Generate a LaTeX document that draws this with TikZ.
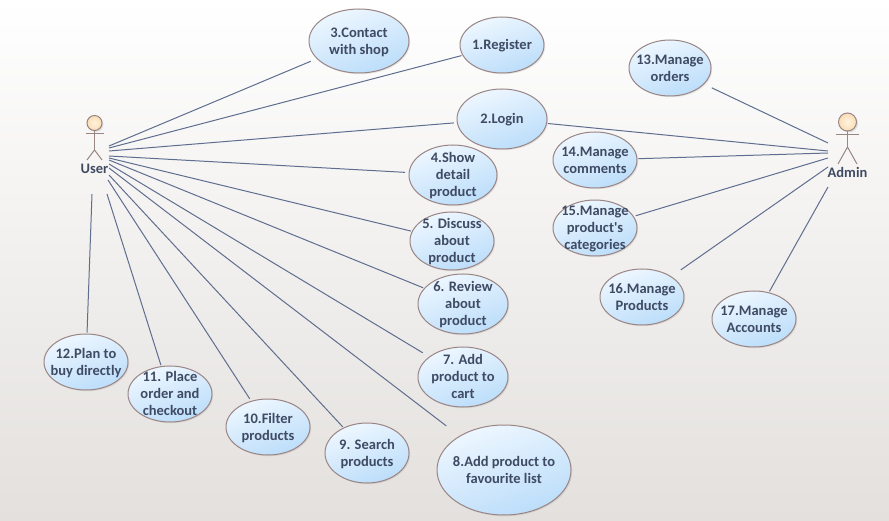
\documentclass[tikz,border=0pt]{standalone}
\usepackage{fontspec}
\setmainfont{Carlito}[Ligatures=TeXOff]
\usetikzlibrary{shapes.geometric,shadows}
\definecolor{lineblue}{HTML}{5F6E8E}
\definecolor{edgebrown}{HTML}{9A8585}
\definecolor{txt}{HTML}{3F4A63}
\definecolor{ucleft}{HTML}{EEF7FF}
\definecolor{ucright}{HTML}{BBDDFA}
\definecolor{headin}{HTML}{FFF3DE}
\definecolor{headout}{HTML}{FBDDB6}
\definecolor{bgbottom}{HTML}{E3E0DD}
\tikzset{
  uc/.style={ellipse,draw=edgebrown,line width=1pt,inner sep=-40pt,outer sep=0pt,
    left color=ucleft,right color=ucright,shading angle=20,
    font=\fontsize{14.5}{17}\selectfont\bfseries,text=txt,
    drop shadow={shadow xshift=1.2pt,shadow yshift=-1.2pt,opacity=.18}},
  link/.style={draw=lineblue,line width=1pt,shorten >=#1},
  link/.default=1.5pt,
  actorline/.style={draw=edgebrown,line width=1pt},
  actorhead/.style={circle,draw=edgebrown,line width=1pt,inner sep=0pt,minimum size=#1,
    inner color=headin,outer color=headout,
    drop shadow={shadow xshift=1.5pt,shadow yshift=-1.5pt,opacity=.2}},
  actorname/.style={font=\fontsize{14.5}{16}\selectfont\bfseries,text=txt,inner sep=0pt}
}
\newcommand{\ucnode}[6]{\node[uc,minimum width=#4pt,minimum height=#5pt] (#1) at (#2,#3)
  {\raisebox{-5pt}[0pt][0pt]{\begin{tabular}{@{}c@{}}#6\end{tabular}}};}
\begin{document}
\begin{tikzpicture}[x=1pt,y=-1pt]
\useasboundingbox (0,0) rectangle (889,521);
\shade[top color=white,bottom color=bgbottom] (0,0) rectangle (889,521);
% start points of the connectors
\foreach \n/\x/\y in {a/109/146,b/109/148,c/109/151,d/109/156,e/109/158,f/109/160,g/109/164,h/109/168,i/109/175,j/108/180,k/107/194,l/92/194,
  m/828/143,n/828/151,o/828/153,p/828/158,q/828/167,r/828/187}
  \coordinate (s\n) at (\x,\y);
\ucnode{uc3}{359}{41}{100}{64}{3.Contact\\with shop}
\ucnode{uc1}{502}{45}{84}{56}{1.Register}
\ucnode{uc13}{670}{68}{82}{56}{13.Manage\\orders}
\ucnode{uc2}{502}{119}{90}{60}{2.Login}
\ucnode{uc14}{595}{160}{84}{56}{14.Manage\\comments}
\ucnode{uc4}{453}{175}{88}{60}{4.Show\\detail\\product}
\ucnode{uc15}{595}{228}{84}{56}{15.Manage\\product's\\categories}
\ucnode{uc5}{452}{241}{84}{58}{5. Discuss\\about\\product}
\ucnode{uc6}{463}{304}{90}{60}{6. Review\\about\\product}
\ucnode{uc16}{642}{297}{84}{56}{16.Manage\\Products}
\ucnode{uc17}{754}{319}{84}{56}{17.Manage\\Accounts}
\ucnode{uc7}{463}{377}{90}{60}{7. Add\\product to\\cart}
\ucnode{uc12}{86}{362}{84}{56}{12.Plan to\\buy directly}
\ucnode{uc11}{170}{394}{84}{56}{11. Place\\order and\\checkout}
\ucnode{uc10}{268}{427}{84}{56}{10.Filter\\products}
\ucnode{uc9}{367}{453}{84}{60}{9. Search\\products}
\ucnode{uc8}{504}{470}{134}{90}{8.Add product to\\favourite list}
% connectors
\draw[link=7pt] (sa) -- (uc3);
\draw[link] (sb) -- (uc1);
\draw[link=3.5pt] (sc) -- (uc2);
\draw[link=4pt] (sd) -- (uc4);
\draw[link] (se) -- (uc5);
\draw[link] (sf) -- (uc6);
\draw[link=8pt] (sg) -- (uc7);
\draw[link=17pt] (sh) -- (uc8);
\draw[link] (si) -- (uc9);
\draw[link=3pt] (sj) -- (uc10);
\draw[link] (sk) -- (uc11);
\draw[link] (sl) -- (uc12);
\draw[link=9pt] (sm) -- (uc13);
\draw[link] (sn) -- (uc2);
\draw[link] (so) -- (uc14);
\draw[link=2.5pt] (sp) -- (uc15);
\draw[link=12pt] (sq) -- (uc16);
\draw[link] (sr) -- (uc17);
% User actor
\node[actorhead=15pt] (uhead) at (94.5,123) {};
\coordinate (uhip) at (94.5,150);
\draw[actorline] (uhead.south) -- (uhip);
\draw[actorline] (86,134) -- (104,134);
\draw[actorline] (87,160) -- (uhip) -- (102,160);
\node[actorname] (user) at (94.5,168.5) {User};
% Admin actor
\node[actorhead=18pt] (ahead) at (847.5,122) {};
\coordinate (ahip) at (847.5,147);
\draw[actorline] (ahead.south) -- (ahip);
\draw[actorline] (836,135) -- (859,135);
\draw[actorline] (838,164) -- (ahip) -- (857,164);
\node[actorname] (admin) at (847.5,172.5) {Admin};
\end{tikzpicture}
\end{document}
